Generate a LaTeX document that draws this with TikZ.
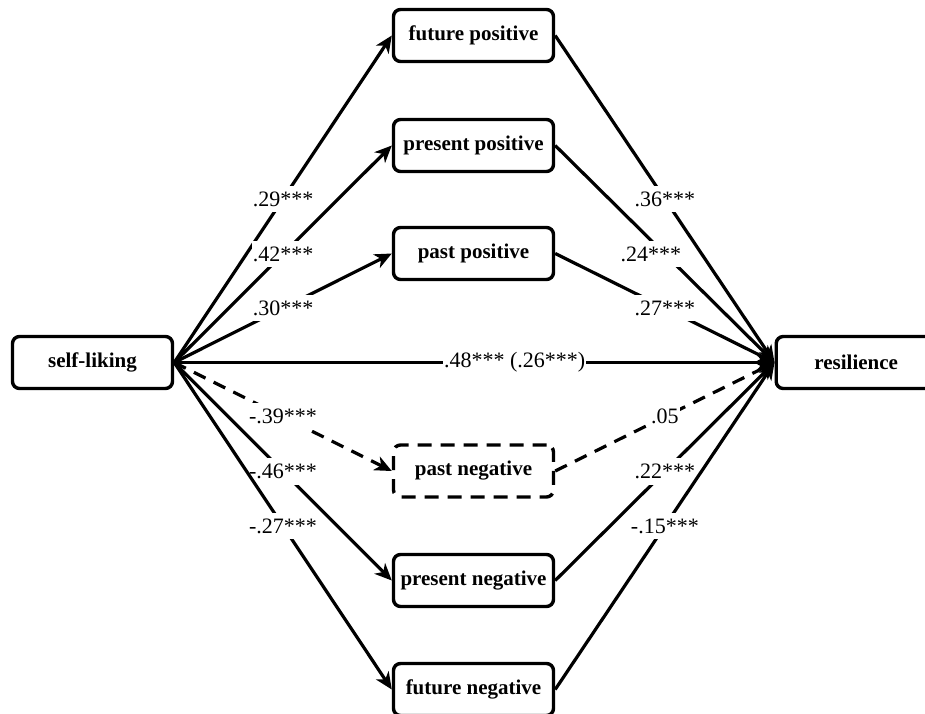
\documentclass[tikz,border=0pt]{standalone}
\usepackage{fontspec}
\setmainfont{Liberation Serif}
\usetikzlibrary{arrows.meta}
\begin{document}
\begin{tikzpicture}[x=1pt,y=-1pt,
  box/.style={draw, line width=3.4pt, rounded corners=7pt, minimum width=160pt, minimum height=52pt, inner sep=0pt, fill=white, font=\fontsize{21}{25}\selectfont\bfseries},
  dbox/.style={box, dash pattern=on 14pt off 9pt},
  link/.style={line width=3.2pt, -{Stealth[length=17pt,width=15pt,inset=5pt]}},
  dlink/.style={link, dash pattern=on 13pt off 9pt},
  lab/.style={fill=white, inner xsep=1pt, inner ysep=6pt, font=\fontsize{22}{26}\selectfont}]
\useasboundingbox (0,0) rectangle (925,713);
\fill[white] (0,0) rectangle (925,713);
\node[box] (sl) at (92.5,362.5) {self-liking};
\node[box, anchor=west] (res) at (774.5,362.5) {resilience};
\node[box] (fp) at (473.5,35.5) {future positive};
\node[box] (prp) at (473.5,145.5) {present positive};
\node[box] (pap) at (473.5,253.5) {past positive};
\node[dbox] (pan) at (473.5,471) {past negative};
\node[box] (prn) at (473.5,580.5) {present negative};
\node[box] (fn) at (473.5,689.5) {future negative};
\coordinate (s) at (sl.east);
\coordinate (r) at (res.west);
% left paths
\draw[link] (s) -- node[lab]{.29***} (fp.west);
\draw[link] (s) -- node[lab]{.42***} (prp.west);
\draw[link] (s) -- node[lab]{.30***} (pap.west);
\draw[dlink] (s) -- node[lab]{-.39***} (pan.west);
\draw[link] (s) -- node[lab]{-.46***} (prn.west);
\draw[link] (s) -- node[lab]{-.27***} (fn.west);
% direct
\draw[link] (s) -- node[lab, inner ysep=1pt, pos=0.567]{.48*** (.26***)} (r);
% right paths
\draw[link] (fp.east) -- node[lab]{.36***} (r);
\draw[link] (prp.east) -- node[lab, xshift=-14pt]{.24***} (r);
\draw[link] (pap.east) -- node[lab]{.27***} (r);
\draw[dlink] (pan.east) -- node[lab]{.05} (r);
\draw[link] (prn.east) -- node[lab]{.22***} (r);
\draw[link] (fn.east) -- node[lab]{-.15***} (r);
\end{tikzpicture}
\end{document}
